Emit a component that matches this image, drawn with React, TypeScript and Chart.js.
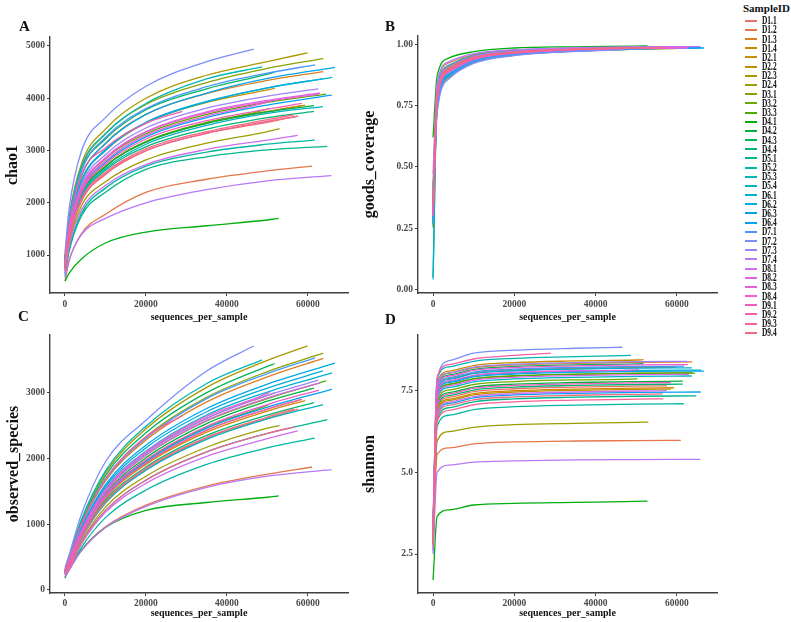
import React, { useEffect, useRef } from 'react';
import { Chart, registerables } from 'chart.js';

Chart.register(...registerables);

// ---------------- data ----------------
const SAMPLES = [
  'D1.1', 'D1.2', 'D1.3', 'D1.4', 'D2.1', 'D2.2', 'D2.3', 'D2.4', 'D3.1', 'D3.2', 'D3.3',
  'D4.1', 'D4.2', 'D4.3', 'D4.4', 'D5.1', 'D5.2', 'D5.3', 'D5.4', 'D6.1', 'D6.2', 'D6.3', 'D6.4',
  'D7.1', 'D7.2', 'D7.3', 'D7.4', 'D8.1', 'D8.2', 'D8.3', 'D8.4', 'D9.1', 'D9.2', 'D9.3', 'D9.4',
];

// sequencing depth (last rarefaction point) of each sample
const DEPTH = [
  57600, 61000, 63800, 59300, 51800, 58500, 59900, 53000, 63800, 50300, 64500,
  52800, 61500, 51800, 61500, 64800, 61700, 48700, 63700, 66000, 63700, 66700, 65900,
  61800, 46600, 62600, 65800, 57500, 63000, 50600, 62700, 58500, 29000, 56700, 56500,
];

// rarefaction steps (a sample uses the steps below its depth, then its depth)
const X_GRID = [10, 1000, 4000, 10000, 20000, 35000, 50000];

const CHAO1 = [
  [760, 1270, 2020, 2540, 2990, 3330, 3540, 3660],
  [500, 880, 1400, 1780, 2200, 2450, 2610, 2700],
  [900, 1560, 2490, 3140, 3690, 4090, 4340, 4510],
  [780, 1350, 2150, 2700, 3170, 3530, 3750, 3870],
  [880, 1520, 2410, 3000, 3530, 3920, 4160, 4190],
  [720, 1320, 2130, 2690, 3160, 3520, 3740, 3860],
  [980, 1720, 2730, 3410, 4000, 4440, 4700, 4870],
  [700, 1210, 1930, 2400, 2820, 3140, 3360, 3420],
  [960, 1670, 2650, 3320, 3880, 4300, 4570, 4760],
  [760, 1350, 2150, 2700, 3170, 3540, 3790, 3800],
  [820, 1430, 2260, 2840, 3320, 3690, 3920, 4080],
  [500, 650, 920, 1230, 1440, 1560, 1670, 1700],
  [760, 1340, 2140, 2690, 3160, 3520, 3740, 3860],
  [920, 1630, 2600, 3220, 3780, 4180, 4460, 4500],
  [740, 1310, 2080, 2620, 3070, 3410, 3630, 3750],
  [600, 1060, 1740, 2200, 2640, 2880, 3010, 3080],
  [640, 1100, 1790, 2280, 2700, 2970, 3120, 3200],
  [940, 1650, 2670, 3320, 3900, 4370, 4600],
  [760, 1320, 2110, 2650, 3120, 3480, 3710, 3840],
  [860, 1510, 2390, 3000, 3530, 3930, 4200, 4400],
  [880, 1520, 2400, 3020, 3540, 3940, 4200, 4370],
  [920, 1580, 2500, 3130, 3690, 4100, 4380, 4590],
  [800, 1400, 2210, 2770, 3260, 3630, 3870, 4060],
  [940, 1640, 2600, 3250, 3800, 4220, 4480, 4640],
  [1050, 1870, 2970, 3630, 4230, 4700, 4940],
  [840, 1460, 2330, 2920, 3430, 3810, 4040, 4180],
  [560, 900, 1380, 1700, 2000, 2250, 2420, 2520],
  [660, 1160, 1850, 2330, 2730, 3020, 3200, 3290],
  [820, 1430, 2280, 2860, 3360, 3740, 3960, 4100],
  [800, 1400, 2230, 2800, 3290, 3660, 3930, 3950],
  [820, 1430, 2270, 2850, 3350, 3720, 3940, 4080],
  [780, 1380, 2180, 2740, 3220, 3570, 3790, 3900],
  [860, 1540, 2520, 3050, 3520, 3750],
  [700, 1270, 2020, 2550, 3000, 3330, 3560, 3650],
  [740, 1300, 2060, 2580, 3030, 3360, 3590, 3680],
];

const OBSERVED = [
  [250, 360, 780, 1330, 1830, 2310, 2610, 2750],
  [200, 300, 600, 960, 1290, 1580, 1760, 1870],
  [290, 450, 970, 1660, 2280, 2860, 3240, 3520],
  [260, 380, 810, 1390, 1910, 2400, 2720, 2880],
  [270, 410, 880, 1510, 2080, 2610, 2960, 3000],
  [260, 380, 820, 1410, 1930, 2430, 2750, 2900],
  [300, 480, 1040, 1780, 2450, 3080, 3490, 3710],
  [230, 340, 730, 1260, 1730, 2170, 2460, 2500],
  [300, 460, 990, 1690, 2330, 2930, 3320, 3600],
  [260, 390, 840, 1440, 1970, 2480, 2810, 2820],
  [270, 400, 870, 1490, 2050, 2570, 2910, 3180],
  [180, 330, 600, 950, 1210, 1330, 1410, 1430],
  [270, 400, 850, 1460, 2010, 2530, 2870, 3070],
  [300, 470, 1010, 1740, 2390, 3000, 3400, 3440],
  [250, 370, 790, 1360, 1870, 2350, 2660, 2850],
  [240, 330, 710, 1210, 1670, 2100, 2380, 2590],
  [220, 300, 640, 1100, 1520, 1910, 2160, 2310],
  [310, 490, 1060, 1810, 2490, 3140, 3500],
  [250, 360, 770, 1320, 1820, 2290, 2600, 2820],
  [280, 420, 900, 1540, 2110, 2660, 3010, 3300],
  [280, 430, 920, 1570, 2160, 2710, 3070, 3330],
  [290, 430, 930, 1600, 2200, 2760, 3130, 3450],
  [260, 380, 830, 1420, 1950, 2460, 2780, 3050],
  [300, 460, 980, 1680, 2310, 2910, 3290, 3530],
  [340, 530, 1140, 1950, 2580, 3330, 3710],
  [270, 410, 880, 1510, 2080, 2610, 2960, 3190],
  [200, 300, 590, 950, 1270, 1560, 1730, 1830],
  [230, 320, 690, 1180, 1620, 2030, 2300, 2420],
  [270, 400, 870, 1490, 2050, 2580, 2920, 3150],
  [270, 410, 890, 1530, 2100, 2640, 2990, 3010],
  [260, 390, 840, 1440, 1980, 2490, 2820, 3040],
  [260, 380, 820, 1410, 1930, 2430, 2750, 2900],
  [300, 460, 990, 1690, 2330, 2650],
  [240, 330, 710, 1210, 1670, 2100, 2380, 2480],
  [250, 360, 780, 1340, 1850, 2320, 2630, 2750],
];

const SHANNON = [
  [3.0, 6.95, 7.30, 7.47, 7.56, 7.61, 7.64, 7.65],
  [2.9, 5.55, 5.75, 5.87, 5.93, 5.96, 5.97, 5.98],
  [3.2, 7.65, 8.03, 8.20, 8.29, 8.34, 8.37, 8.38],
  [3.1, 6.90, 7.24, 7.41, 7.50, 7.55, 7.58, 7.59],
  [3.3, 7.75, 8.10, 8.27, 8.36, 8.41, 8.44, 8.45],
  [3.0, 6.85, 7.20, 7.37, 7.46, 7.51, 7.54, 7.55],
  [3.2, 7.50, 7.87, 8.04, 8.13, 8.18, 8.21, 8.22],
  [3.0, 5.95, 6.25, 6.38, 6.46, 6.50, 6.53, 6.54],
  [3.1, 7.35, 7.70, 7.87, 7.96, 8.01, 8.04, 8.05],
  [3.0, 7.15, 7.52, 7.69, 7.78, 7.83, 7.86, 7.87],
  [3.1, 7.30, 7.69, 7.86, 7.95, 8.00, 8.03, 8.04],
  [1.7, 3.65, 3.85, 4.00, 4.05, 4.08, 4.11, 4.12],
  [3.0, 7.10, 7.44, 7.61, 7.70, 7.75, 7.78, 7.79],
  [3.3, 7.60, 7.98, 8.15, 8.24, 8.29, 8.32, 8.33],
  [2.9, 7.00, 7.35, 7.52, 7.61, 7.66, 7.69, 7.70],
  [2.8, 6.60, 6.98, 7.16, 7.25, 7.30, 7.33, 7.34],
  [2.6, 6.40, 6.75, 6.92, 7.01, 7.06, 7.09, 7.10],
  [3.4, 7.85, 8.23, 8.40, 8.49, 8.54, 8.58],
  [3.0, 7.25, 7.60, 7.77, 7.86, 7.91, 7.94, 7.95],
  [3.1, 7.40, 7.78, 7.95, 8.04, 8.09, 8.12, 8.13],
  [3.2, 7.50, 7.85, 8.02, 8.11, 8.16, 8.19, 8.20],
  [3.1, 7.40, 7.75, 7.92, 8.01, 8.06, 8.09, 8.10],
  [2.8, 6.75, 7.11, 7.28, 7.37, 7.42, 7.45, 7.46],
  [3.2, 7.55, 7.90, 8.07, 8.16, 8.21, 8.24, 8.25],
  [3.5, 7.85, 8.42, 8.65, 8.74, 8.80, 8.83],
  [3.3, 7.70, 8.05, 8.22, 8.31, 8.36, 8.39, 8.40],
  [2.5, 5.00, 5.22, 5.31, 5.35, 5.38, 5.39, 5.40],
  [2.9, 6.80, 7.15, 7.32, 7.41, 7.46, 7.49, 7.50],
  [3.1, 7.30, 7.65, 7.82, 7.91, 7.96, 7.99, 8.00],
  [3.1, 7.45, 7.80, 7.97, 8.06, 8.11, 8.14, 8.15],
  [3.2, 7.60, 7.95, 8.12, 8.21, 8.26, 8.29, 8.30],
  [3.0, 7.05, 7.40, 7.57, 7.66, 7.71, 7.74, 7.75],
  [3.4, 7.90, 8.30, 8.47, 8.58, 8.65],
  [2.7, 6.55, 6.90, 7.07, 7.16, 7.21, 7.24, 7.25],
  [2.8, 6.70, 7.05, 7.22, 7.31, 7.36, 7.39, 7.40],
];

const COVERAGE = [
  [0.35, 0.79, 0.900, 0.945, 0.968, 0.980, 0.986, 0.988],
  [0.40, 0.83, 0.925, 0.958, 0.976, 0.985, 0.989, 0.991],
  [0.28, 0.75, 0.875, 0.930, 0.960, 0.975, 0.982, 0.985],
  [0.33, 0.78, 0.895, 0.942, 0.966, 0.979, 0.985, 0.987],
  [0.30, 0.77, 0.885, 0.937, 0.963, 0.977, 0.984, 0.985],
  [0.36, 0.78, 0.895, 0.942, 0.966, 0.979, 0.985, 0.987],
  [0.25, 0.73, 0.865, 0.925, 0.956, 0.972, 0.980, 0.983],
  [0.38, 0.80, 0.905, 0.949, 0.970, 0.982, 0.987, 0.988],
  [0.26, 0.74, 0.868, 0.927, 0.957, 0.973, 0.981, 0.984],
  [0.34, 0.785, 0.897, 0.943, 0.967, 0.980, 0.985, 0.985],
  [0.31, 0.775, 0.890, 0.939, 0.964, 0.978, 0.984, 0.987],
  [0.62, 0.87, 0.945, 0.970, 0.985, 0.990, 0.993, 0.994],
  [0.05, 0.78, 0.895, 0.942, 0.966, 0.979, 0.985, 0.987],
  [0.29, 0.75, 0.875, 0.931, 0.960, 0.975, 0.982, 0.983],
  [0.34, 0.785, 0.898, 0.944, 0.967, 0.980, 0.986, 0.988],
  [0.42, 0.815, 0.915, 0.955, 0.974, 0.984, 0.989, 0.990],
  [0.40, 0.81, 0.912, 0.953, 0.973, 0.983, 0.988, 0.990],
  [0.27, 0.745, 0.872, 0.930, 0.959, 0.974, 0.980],
  [0.33, 0.78, 0.896, 0.943, 0.966, 0.979, 0.985, 0.987],
  [0.04, 0.76, 0.880, 0.934, 0.961, 0.976, 0.983, 0.986],
  [0.29, 0.76, 0.880, 0.934, 0.961, 0.976, 0.983, 0.986],
  [0.27, 0.745, 0.872, 0.930, 0.959, 0.974, 0.982, 0.985],
  [0.31, 0.775, 0.890, 0.939, 0.964, 0.978, 0.984, 0.987],
  [0.27, 0.74, 0.870, 0.928, 0.958, 0.974, 0.981, 0.984],
  [0.30, 0.72, 0.860, 0.922, 0.954, 0.971, 0.978],
  [0.30, 0.77, 0.885, 0.937, 0.963, 0.977, 0.984, 0.986],
  [0.47, 0.84, 0.930, 0.962, 0.978, 0.986, 0.990, 0.991],
  [0.39, 0.805, 0.910, 0.952, 0.972, 0.983, 0.988, 0.989],
  [0.31, 0.775, 0.890, 0.939, 0.964, 0.978, 0.984, 0.987],
  [0.32, 0.78, 0.893, 0.941, 0.965, 0.979, 0.985, 0.985],
  [0.31, 0.775, 0.890, 0.939, 0.964, 0.978, 0.984, 0.987],
  [0.33, 0.78, 0.895, 0.942, 0.966, 0.979, 0.985, 0.987],
  [0.30, 0.77, 0.890, 0.940, 0.965, 0.976],
  [0.35, 0.79, 0.900, 0.946, 0.968, 0.980, 0.986, 0.987],
  [0.34, 0.785, 0.898, 0.945, 0.967, 0.980, 0.986, 0.987],
];

const X_TICKS = [0, 20000, 40000, 60000];
const CHAO1_TICKS = [1000, 2000, 3000, 4000, 5000];
const COVERAGE_TICKS = [0, 0.25, 0.5, 0.75, 1];
const OBSERVED_TICKS = [0, 1000, 2000, 3000];
const SHANNON_TICKS = [2.5, 5.0, 7.5];

// ---------------- styling ----------------
const SERIF = "'Liberation Serif', 'Times New Roman', Times, serif";
const AXIS_COLOR = '#404040';
const TICK_COLOR = '#4a4a4a';

function hcl(h: number, c: number, l: number): string {
  const hr = (h * Math.PI) / 180;
  const U = c * Math.cos(hr);
  const V = c * Math.sin(hr);
  const Xn = 95.047, Yn = 100, Zn = 108.883;
  const den = Xn + 15 * Yn + 3 * Zn;
  const un = (4 * Xn) / den, vn = (9 * Yn) / den;
  const Y = l > 8 ? Yn * Math.pow((l + 16) / 116, 3) : (Yn * l) / 903.3;
  const up = U / (13 * l) + un;
  const vp = V / (13 * l) + vn;
  const X = (Y * 9 * up) / (4 * vp);
  const Z = (Y * (12 - 3 * up - 20 * vp)) / (4 * vp);
  const x = X / 100, y = Y / 100, z = Z / 100;
  const r = 3.2404542 * x - 1.5371385 * y - 0.4985314 * z;
  const g = -0.969266 * x + 1.8760108 * y + 0.041556 * z;
  const b = 0.0556434 * x - 0.2040259 * y + 1.0572252 * z;
  const gam = (u: number) => {
    const v = u <= 0.0031308 ? 12.92 * u : 1.055 * Math.pow(Math.max(u, 0), 1 / 2.4) - 0.055;
    return Math.round(Math.max(0, Math.min(1, v)) * 255);
  };
  return `rgb(${gam(r)},${gam(g)},${gam(b)})`;
}

const COLORS = SAMPLES.map((_, i) => hcl((15 + (360 / SAMPLES.length) * i) % 360, 95, 62));

function seriesPoints(i: number, values: number[]) {
  const xs = X_GRID.filter((x) => x < DEPTH[i]).concat([DEPTH[i]]);
  const n = Math.min(xs.length, values.length);
  const pts = [] as { x: number; y: number }[];
  for (let k = 0; k < n; k++) pts.push({ x: xs[k], y: values[k] });
  return pts;
}

type PanelSpec = {
  values: number[][];
  yMin: number;
  yMax: number;
  yTicks: number[];
  fmt: (v: number) => string;
  yTitle: string;
  yWidth: number;
  xHeight: number;
  padTop: number;
  padRight: number;
  xTickPad: number;
  xTitlePad: number;
  yTitlePad: number;
};

function buildConfig(p: PanelSpec): any {
  const tickFont = { family: SERIF, size: 9.5, weight: 'bold' };
  return {
    type: 'line',
    data: {
      datasets: SAMPLES.map((name, i) => ({
        label: name,
        data: seriesPoints(i, p.values[i]),
        borderColor: COLORS[i],
        backgroundColor: COLORS[i],
        borderWidth: 1.3,
        pointRadius: 0,
        pointHoverRadius: 0,
        fill: false,
        cubicInterpolationMode: 'monotone',
        order: SAMPLES.length - 1 - i,
      })),
    },
    options: {
      animation: false,
      responsive: false,
      devicePixelRatio: 1,
      events: [],
      layout: { padding: { top: p.padTop, right: p.padRight, left: 0, bottom: 0 } },
      plugins: { legend: { display: false }, tooltip: { enabled: false } },
      scales: {
        x: {
          type: 'linear',
          min: -3700,
          max: 69900,
          afterBuildTicks: (s: any) => {
            s.ticks = X_TICKS.map((v) => ({ value: v }));
          },
          afterFit: (s: any) => {
            s.height = p.xHeight;
          },
          ticks: {
            callback: (v: any) => String(v),
            font: tickFont,
            color: TICK_COLOR,
            padding: p.xTickPad,
            maxRotation: 0,
            autoSkip: false,
          },
          grid: { display: true, drawOnChartArea: false, drawTicks: true, tickLength: 3, color: AXIS_COLOR },
          border: { display: true, color: AXIS_COLOR, width: 1.4 },
          title: {
            display: true,
            text: 'sequences_per_sample',
            font: { family: SERIF, size: 10, weight: 'bold', lineHeight: 1.2 },
            color: '#111',
            padding: { top: 0, bottom: p.xTitlePad },
          },
        },
        y: {
          type: 'linear',
          min: p.yMin,
          max: p.yMax,
          afterBuildTicks: (s: any) => {
            s.ticks = p.yTicks.map((v) => ({ value: v }));
          },
          afterFit: (s: any) => {
            s.width = p.yWidth;
          },
          ticks: {
            callback: (v: any) => p.fmt(Number(v)),
            font: tickFont,
            color: TICK_COLOR,
            padding: 2,
            autoSkip: false,
          },
          grid: { display: true, drawOnChartArea: false, drawTicks: true, tickLength: 3, color: AXIS_COLOR },
          border: { display: true, color: AXIS_COLOR, width: 1.4 },
          title: {
            display: true,
            text: p.yTitle,
            font: { family: SERIF, size: 16, weight: 'bold', lineHeight: 1.2 },
            color: '#111',
            padding: { top: p.yTitlePad, bottom: 0 },
          },
        },
      },
    },
  };
}

const PANELS: { spec: PanelSpec; left: number; top: number; w: number; h: number }[] = [
  {
    left: 0, top: 28, w: 360, h: 300,
    spec: {
      values: CHAO1, yMin: 273, yMax: 5172, yTicks: CHAO1_TICKS, fmt: (v) => String(v), yTitle: 'chao1',
      yWidth: 50, xHeight: 35, padTop: 9, padRight: 12, xTickPad: 3, xTitlePad: 5, yTitlePad: 3,
    },
  },
  {
    left: 360, top: 28, w: 360, h: 300,
    spec: {
      values: COVERAGE, yMin: -0.015, yMax: 1.034, yTicks: COVERAGE_TICKS, fmt: (v) => v.toFixed(2), yTitle: 'goods_coverage',
      yWidth: 58, xHeight: 35, padTop: 8, padRight: 3, xTickPad: 3, xTitlePad: 5, yTitlePad: 0,
    },
  },
  {
    left: 0, top: 325, w: 360, h: 297,
    spec: {
      values: OBSERVED, yMin: -46, yMax: 3877, yTicks: OBSERVED_TICKS, fmt: (v) => String(v), yTitle: 'observed_species',
      yWidth: 50, xHeight: 29, padTop: 10, padRight: 12, xTickPad: 2, xTitlePad: 3, yTitlePad: 4,
    },
  },
  {
    left: 360, top: 325, w: 360, h: 297,
    spec: {
      values: SHANNON, yMin: 1.306, yMax: 9.205, yTicks: SHANNON_TICKS, fmt: (v) => v.toFixed(1), yTitle: 'shannon',
      yWidth: 58, xHeight: 29, padTop: 10, padRight: 3, xTickPad: 2, xTitlePad: 3, yTitlePad: 0,
    },
  },
];

const LETTERS = [
  { t: 'A', left: 19, top: 19 },
  { t: 'B', left: 385, top: 19 },
  { t: 'C', left: 18, top: 309 },
  { t: 'D', left: 385, top: 312 },
];

export default function App() {
  const refs = useRef<(HTMLCanvasElement | null)[]>([]);

  useEffect(() => {
    const charts = PANELS.map((p, i) => {
      const c = refs.current[i];
      return c ? new Chart(c, buildConfig(p.spec)) : null;
    });
    return () => {
      charts.forEach((ch) => ch && ch.destroy());
    };
  }, []);

  return (
    <div
      style={{
        position: 'absolute', left: 0, top: 0, width: 791, height: 622,
        background: '#ffffff', overflow: 'hidden', fontFamily: SERIF,
      }}
    >
      {PANELS.map((p, i) => (
        <canvas
          key={i}
          ref={(el) => { refs.current[i] = el; }}
          width={p.w}
          height={p.h}
          style={{ position: 'absolute', left: p.left, top: p.top, width: p.w, height: p.h }}
        />
      ))}
      {LETTERS.map((l) => (
        <div
          key={l.t}
          style={{
            position: 'absolute', left: l.left, top: l.top, fontSize: 15, lineHeight: '15px',
            fontWeight: 'bold', color: '#111', fontFamily: SERIF,
          }}
        >
          {l.t}
        </div>
      ))}
      <div
        style={{
          position: 'absolute', left: 743, top: 2.5, fontSize: 11, lineHeight: '11px',
          fontWeight: 'bold', color: '#111', whiteSpace: 'nowrap', fontFamily: SERIF,
        }}
      >
        SampleID
      </div>
      {SAMPLES.map((s, i) => {
        const cy = 20.7 + i * 9.18;
        return (
          <React.Fragment key={s}>
            <div
              style={{
                position: 'absolute', left: 745, top: Math.round(cy - 1), width: 12, height: 2,
                background: COLORS[i],
              }}
            />
            <div
              style={{
                position: 'absolute', left: 762, top: cy - 6.5, fontSize: 12, lineHeight: '12px',
                fontWeight: 'bold', color: '#111', whiteSpace: 'nowrap', fontFamily: SERIF,
                transform: 'scaleX(0.62)', transformOrigin: 'left center',
              }}
            >
              {s}
            </div>
          </React.Fragment>
        );
      })}
    </div>
  );
}
